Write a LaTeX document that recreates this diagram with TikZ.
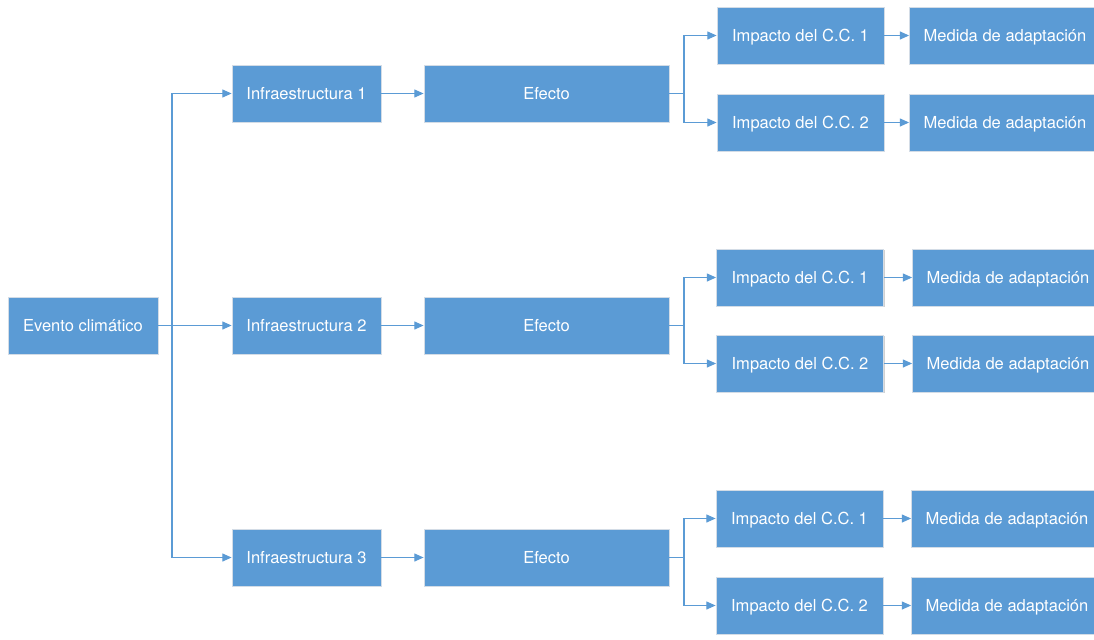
\documentclass[tikz,border=0pt]{standalone}
\usepackage{fontspec}
\setmainfont{TeX Gyre Heros}
\usetikzlibrary{arrows.meta,shadows}
\definecolor{boxblue}{HTML}{5B9BD5}
\definecolor{boxedge}{HTML}{D3DCE6}
\begin{document}
\begin{tikzpicture}[x=0.75pt,y=-0.75pt,
  box/.style={rectangle, fill=boxblue, draw=boxedge, line width=0.6pt,
    text=white, font=\fontsize{12.4}{14}\selectfont, minimum height=42.75pt,
    text height=8.9pt, text depth=0pt,
    inner sep=0pt, drop shadow={shadow xshift=0.8pt, shadow yshift=-0.8pt, opacity=0.18, fill=black}},
  evbox/.style={box, minimum width=112.5pt},
  infbox/.style={box, minimum width=111.75pt},
  efbox/.style={box, minimum width=183.75pt},
  impbox/.style={box, minimum width=125.25pt},
  medbox/.style={box, minimum width=143.25pt},
  arr/.style={draw=boxblue, line width=1pt, -{Triangle[length=7pt,width=6pt]}},
  ln/.style={draw=boxblue, line width=1pt}
]
\useasboundingbox (0,0) rectangle (1094,639);
\fill[white] (0,0) rectangle (1094,639);

\node[evbox] (ev) at (83,325.5) {Evento climático};

\node[infbox] (in1) at (306.5,93.5) {Infraestructura 1};
\node[infbox] (in2) at (306.5,325.5) {Infraestructura 2};
\node[infbox] (in3) at (306.5,557.5) {Infraestructura 3};

\node[efbox] (ef1) at (546.5,93.5) {Efecto};
\node[efbox] (ef2) at (546.5,325.5) {Efecto};
\node[efbox] (ef3) at (546.5,557.5) {Efecto};

\node[impbox] (im11) at (800.5,35.5) {Impacto del C.C. 1};
\node[impbox] (im12) at (800.5,122.5) {Impacto del C.C. 2};
\node[impbox] (im21) at (800,277.5) {Impacto del C.C. 1};
\node[impbox] (im22) at (800,363.5) {Impacto del C.C. 2};
\node[impbox] (im31) at (799.5,518.5) {Impacto del C.C. 1};
\node[impbox] (im32) at (799.5,605.5) {Impacto del C.C. 2};

\node[medbox] (me11) at (1005,35.5) {Medida de adaptación};
\node[medbox] (me12) at (1005,122.5) {Medida de adaptación};
\node[medbox] (me21) at (1008,277.5) {Medida de adaptación};
\node[medbox] (me22) at (1008,363.5) {Medida de adaptación};
\node[medbox] (me31) at (1007,518.5) {Medida de adaptación};
\node[medbox] (me32) at (1007,605.5) {Medida de adaptación};

\coordinate (j) at (172,325.5);
\coordinate (b1) at (684,93.5);
\coordinate (b2) at (684,325.5);
\coordinate (b3) at (684,557.5);

\draw[arr] (ev.east) -- (in2.west);
\draw[arr] (j) |- (in1.west);
\draw[arr] (j) |- (in3.west);

\draw[arr] (in1.east) -- (ef1.west);
\draw[arr] (in2.east) -- (ef2.west);
\draw[arr] (in3.east) -- (ef3.west);

\draw[ln] (ef1.east) -- (b1);
\draw[ln] (ef2.east) -- (b2);
\draw[ln] (ef3.east) -- (b3);
\draw[arr] (b1) |- (im11.west);
\draw[arr] (b1) |- (im12.west);
\draw[arr] (b2) |- (im21.west);
\draw[arr] (b2) |- (im22.west);
\draw[arr] (b3) |- (im31.west);
\draw[arr] (b3) |- (im32.west);

\draw[arr] (im11.east) -- (me11.west);
\draw[arr] (im12.east) -- (me12.west);
\draw[arr] (im21.east) -- (me21.west);
\draw[arr] (im22.east) -- (me22.west);
\draw[arr] (im31.east) -- (me31.west);
\draw[arr] (im32.east) -- (me32.west);
\end{tikzpicture}
\end{document}
